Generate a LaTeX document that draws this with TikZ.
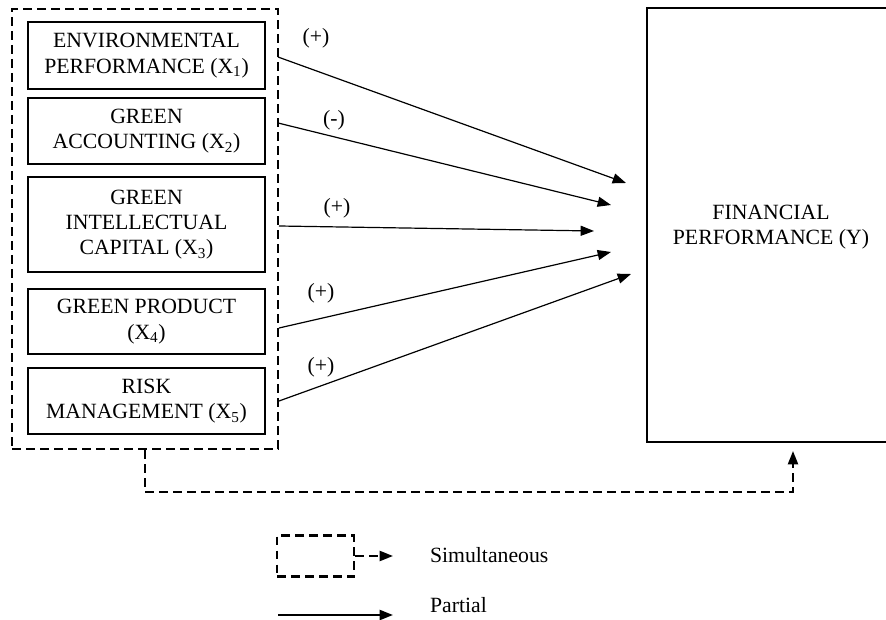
\documentclass[tikz,border=0pt]{standalone}
\usepackage{fontspec}
\setmainfont{Liberation Serif}
\usetikzlibrary{arrows.meta}

\tikzset{every picture/.style={line width=0.9pt}}
\tikzset{
  varbox/.style={draw, line width=1.5pt, minimum width=177.75pt, align=center, inner sep=0pt,
    font=\fontsize{16.3}{19}\selectfont},
  simline/.style={line width=1.6pt, dash pattern=on 6.5pt off 4pt},
  pathtip/.style={-{Triangle[length=10pt,width=7.5pt]}},
  signlabel/.style={font=\fontsize{16.3}{19}\selectfont},
}

\begin{document}
\begin{tikzpicture}[x=0.75pt,y=0.75pt,yscale=-1,xscale=1]
\useasboundingbox (0,0) rectangle (886,620);

%Shape: Rectangle (dashed group) 
\node [simline, draw, minimum width=199.5pt, minimum height=330pt] (grp) at (145,229) {};

%Shape: Rectangle 
\node [varbox, minimum height=50.25pt] (x1) at (146.5,55.5) {ENVIRONMENTAL\\PERFORMANCE (X\textsubscript{1})};
%Shape: Rectangle 
\node [varbox, minimum height=49.5pt] (x2) at (146.5,131) {GREEN\\ACCOUNTING (X\textsubscript{2})};
%Shape: Rectangle 
\node [varbox, minimum height=71.25pt] (x3) at (146.5,224.5) {GREEN\\INTELLECTUAL\\CAPITAL (X\textsubscript{3})};
%Shape: Rectangle 
\node [varbox, minimum height=48.75pt] (x4) at (146.5,321.5) {GREEN PRODUCT\\(X\textsubscript{4})};
%Shape: Rectangle 
\node [varbox, minimum height=49.5pt] (x5) at (146.5,401) {RISK\\MANAGEMENT (X\textsubscript{5})};

%Shape: Rectangle (dependent, runs past the right edge) 
\node [varbox, minimum width=190pt, minimum height=325.5pt] (y) at (773.7,225) {};
% Text Node
\node [signlabel, align=center] (ytxt) at (771,227) {FINANCIAL\\PERFORMANCE (Y)};

%Straight Lines 
\coordinate (s1) at (278,57);  \coordinate (t1) at (626,183);
\coordinate (s2) at (278,123); \coordinate (t2) at (611,205);
\coordinate (s3) at (279,226); \coordinate (t3) at (594,231);
\coordinate (s4) at (279,328); \coordinate (t4) at (611,252);
\coordinate (s5) at (279,401); \coordinate (t5) at (631,274);
\foreach \i in {1,...,5}
  \draw [pathtip] (s\i) -- (t\i) ;

% Text Node
\node [signlabel] (p1) at (316,38) {(+)};
% Text Node
\node [signlabel] (p2) at (334,120) {(-)};
% Text Node
\node [signlabel] (p3) at (337,208) {(+)};
% Text Node
\node [signlabel] (p4) at (321,293) {(+)};
% Text Node
\node [signlabel] (p5) at (321,367) {(+)};

%Dashed connector (simultaneous) 
\coordinate (ytip) at (793,451);
\draw [simline, pathtip] (grp.south) -- (145,492) -- (793,492) -- (ytip) ;

%Legend 
\node [simline, draw, minimum width=57.75pt, minimum height=30.75pt] (lgbox) at (315.5,556) {};
\coordinate (lgtip) at (393,556);
\draw [simline, pathtip] (lgbox.east) -- (lgtip) ;
\coordinate (lgs) at (278,615);
\coordinate (lgt) at (393,615);
\draw [line width=1.5pt, pathtip] (lgs) -- (lgt) ;

% Text Node
\node [signlabel, anchor=west] (lgsim) at (425,555) {Simultaneous};
% Text Node
\node [signlabel, anchor=west] (lgpar) at (425,605) {Partial};

\end{tikzpicture}
\end{document}
